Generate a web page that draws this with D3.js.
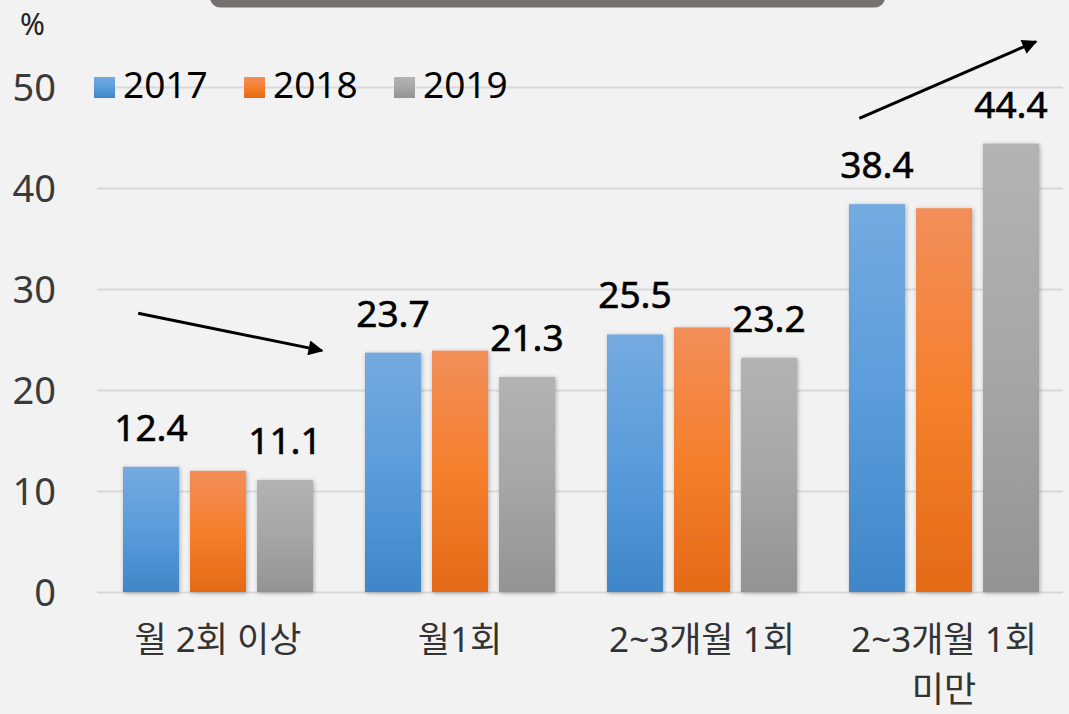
<!DOCTYPE html>
<html>
<head>
<meta charset="utf-8">
<script src="https://cdn.jsdelivr.net/npm/d3@7"></script>
<style>
	body { margin: 0; background: #f2f2f2; }
	svg { display: block; font-family: "Noto Sans", "Noto Sans CJK KR", sans-serif; }
</style>
</head>
<body>
<div id="chart"></div>
<script>
// data
var categories = [["월 2회 이상"], ["월1회"], ["2~3개월 1회"], ["2~3개월 1회", "미만"]];
var years = ["2017", "2018", "2019"];
var values2017 = [12.4, 23.7, 25.5, 38.4];
var values2018 = [12.0, 23.9, 26.2, 38.0];
var values2019 = [11.1, 21.3, 23.2, 44.4];
var yTicks = [0, 10, 20, 30, 40, 50];
var labelledYears = ["2017", "2019"];
// arrows: [category index, fraction of band, value]
var arrowDown = [[0, 0.17, 27.6], [0, 0.93, 23.9]];
var arrowUp = [[3, 0.15, 46.9], [3, 0.88, 54.5]];

var colors = {
	"2017": ["#74aae0", "#5a9cdb", "#3f86c8"],
	"2018": ["#f28e5a", "#f57f2c", "#e36a17"],
	"2019": ["#b3b3b3", "#a6a6a6", "#939393"]
};

var seriesValues = { "2017": values2017, "2018": values2018, "2019": values2019 };

var width = 1069, height = 714,
	margin = { top: 87, right: 4, bottom: 122, left: 97 };

var svg = d3.select("#chart")
	.append("svg")
	.attr("width", width)
	.attr("height", height);

var defs = svg.append("defs");
years.forEach(function (yr) {
	var g = defs.append("linearGradient")
		.attr("id", "grad" + yr)
		.attr("x1", 0).attr("y1", 0).attr("x2", 0).attr("y2", 1);
	g.selectAll("stop")
		.data([0, 0.5, 1])
		.enter().append("stop")
		.attr("offset", function (d) { return d * 100 + "%"; })
		.attr("stop-color", function (d, i) { return colors[yr][i]; });
});
var shadow = defs.append("filter").attr("id", "shadow")
	.attr("x", "-20%").attr("y", "-10%").attr("width", "140%").attr("height", "120%");
shadow.append("feDropShadow")
	.attr("dx", 1).attr("dy", 1).attr("stdDeviation", 2)
	.attr("flood-color", "#000").attr("flood-opacity", 0.3);
defs.append("marker")
	.attr("id", "arrowhead")
	.attr("viewBox", "0 0 10 10")
	.attr("refX", 9).attr("refY", 5)
	.attr("markerWidth", 6).attr("markerHeight", 5)
	.attr("markerUnits", "strokeWidth")
	.attr("orient", "auto")
	.append("path")
	.attr("d", "M0,0 L10,5 L0,10 z")
	.attr("fill", "#000");

// top banner (cut off in the original)
svg.append("rect")
	.attr("x", 210).attr("y", -20)
	.attr("width", 675).attr("height", 27.5)
	.attr("rx", 10)
	.attr("fill", "#767171");

var x = d3.scaleBand()
	.domain(d3.range(categories.length))
	.range([margin.left, width - margin.right])
	.paddingInner(0).paddingOuter(0);

var xInner = d3.scaleBand()
	.domain(years)
	.range([26, x.bandwidth() - 26])
	.paddingInner(0.165);

var y = d3.scaleLinear()
	.domain([0, 50])
	.range([height - margin.bottom, margin.top]);

// gridlines
svg.append("g")
	.selectAll("line")
	.data(yTicks)
	.enter().append("line")
	.attr("x1", margin.left)
	.attr("x2", width - margin.right - 2)
	.attr("y1", function (d) { return Math.round(y(d)) + 0.5; })
	.attr("y2", function (d) { return Math.round(y(d)) + 0.5; })
	.attr("stroke", "#d9d9d9")
	.attr("stroke-width", 2);

// y tick labels
svg.append("g")
	.selectAll("text")
	.data(yTicks)
	.enter().append("text")
	.attr("x", 56)
	.attr("y", function (d) { return y(d); })
	.attr("dy", "0.36em")
	.attr("text-anchor", "end")
	.attr("font-size", 38)
	.attr("fill", "#3a3a3a")
	.text(function (d) { return d; });

svg.append("text")
	.attr("x", 20).attr("y", 35)
	.attr("font-size", 30)
	.attr("fill", "#222")
	.text("%");

// bars
var groups = svg.append("g")
	.selectAll("g")
	.data(categories)
	.enter().append("g")
	.attr("transform", function (d, i) { return "translate(" + x(i) + ",0)"; });

groups.selectAll("rect")
	.data(function (d, i) {
		return years.map(function (yr) { return { year: yr, value: seriesValues[yr][i] }; });
	})
	.enter().append("rect")
	.attr("x", function (d) { return xInner(d.year); })
	.attr("y", function (d) { return y(d.value); })
	.attr("width", xInner.bandwidth())
	.attr("height", function (d) { return y(0) - y(d.value); })
	.attr("fill", function (d) { return "url(#grad" + d.year + ")"; })
	.attr("filter", "url(#shadow)");

groups.selectAll("text.value")
	.data(function (d, i) {
		return labelledYears.map(function (yr) { return { year: yr, value: seriesValues[yr][i] }; });
	})
	.enter().append("text")
	.attr("class", "value")
	.attr("x", function (d) { return xInner(d.year) + xInner.bandwidth() / 2; })
	.attr("y", function (d) { return y(d.value) - 26; })
	.attr("text-anchor", "middle")
	.attr("font-size", 37)
	.attr("fill", "#000")
	.attr("stroke", "#000")
	.attr("stroke-width", 0.6)
	.text(function (d) { return d.value.toFixed(1); });

// category labels
groups.append("text")
	.attr("x", x.bandwidth() / 2)
	.attr("y", 652)
	.attr("text-anchor", "middle")
	.attr("font-size", 35)
	.attr("fill", "#333")
	.selectAll("tspan")
	.data(function (d) { return d; })
	.enter().append("tspan")
	.attr("x", x.bandwidth() / 2)
	.attr("dy", function (d, i) { return i === 0 ? 0 : 50; })
	.text(function (d) { return d; });

// legend
var legend = svg.append("g")
	.selectAll("g")
	.data(years)
	.enter().append("g")
	.attr("transform", function (d, i) { return "translate(" + (94 + i * 150) + ",77)"; });
legend.append("rect")
	.attr("width", 21).attr("height", 21)
	.attr("fill", function (d) { return "url(#grad" + d + ")"; });
legend.append("text")
	.attr("x", 29).attr("y", 21)
	.attr("font-size", 37)
	.attr("fill", "#000")
	.text(function (d) { return d; });

// trend arrows
[arrowDown, arrowUp].forEach(function (a) {
	svg.append("line")
		.attr("x1", x(a[0][0]) + a[0][1] * x.bandwidth())
		.attr("y1", y(a[0][2]))
		.attr("x2", x(a[1][0]) + a[1][1] * x.bandwidth())
		.attr("y2", y(a[1][2]))
		.attr("stroke", "#000")
		.attr("stroke-width", 3)
		.attr("marker-end", "url(#arrowhead)");
});
</script>
</body>
</html>
